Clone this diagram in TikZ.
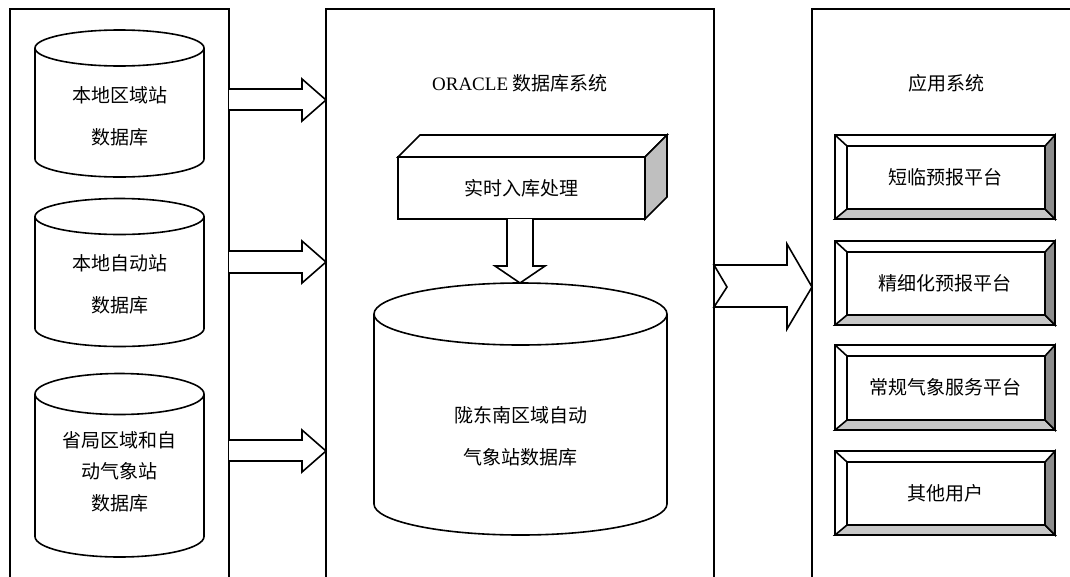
\documentclass[tikz,border=0pt]{standalone}
\usepackage{fontspec}
\setmainfont{Liberation Serif}
\newfontfamily\cjk{Noto Sans CJK SC}
\begin{document}
\begin{tikzpicture}[x=1pt,y=-1pt,
  ln/.style={line width=1.6pt,line join=miter},
  lbl/.style={font=\cjk\fontsize{19}{42}\selectfont,align=center,inner sep=0pt},
  lblb/.style={font=\cjk\fontsize{19}{31.5}\selectfont,align=center,inner sep=0pt},
  bevgray/.style={fill=black!22},
  bevdark/.style={fill=black!45},
  sidegray/.style={fill=black!25}]
\useasboundingbox (0,0) rectangle (1070,576);
% panels
\draw[ln] (10,590) -- (10,9) -- (229,9) -- (229,590);
\draw[ln] (326,590) -- (326,9) -- (714,9) -- (714,590);
\draw[ln] (812,590) -- (812,9) -- (1080,9);
% cylinders
\newcommand{\cyl}[4]{% cx, rx, ytop, ybot
  \draw[ln,fill=white] (#1-#2,#3) -- (#1-#2,#4) arc[start angle=180,end angle=0,x radius=#2,y radius=\cylry] -- (#1+#2,#3);
  \draw[ln,fill=white] (#1,#3) ellipse[x radius=#2,y radius=\cylry];}
\def\cylry{18}
\cyl{119.5}{84.5}{48}{159}
\cyl{119.5}{84.5}{216.5}{328.5}
\def\cylry{20.5}
\cyl{119.5}{84.5}{394}{536.5}
\def\cylry{31}
\cyl{520.5}{146.5}{314}{504}
\node[lbl] (db1) at (119.5,116.5) {本地区域站\\数据库};
\node[lbl] (db2) at (119.5,284) {本地自动站\\数据库};
\node[lblb] (db3) at (119.5,471.5) {省局区域和自\\动气象站\\数据库};
\node[lbl] (dbm) at (520.5,436) {陇东南区域自动\\气象站数据库};
% block arrows left
\newcommand{\barrow}[5]{% y shaft top, shaft bottom, head top, head bottom, tip y
  \draw[ln,fill=white] (229,#1) -- (302,#1) -- (302,#3) -- (326,#5) -- (302,#4) -- (302,#2) -- (229,#2);}
\barrow{89}{110}{79}{121}{100}
\barrow{251}{273}{241}{283}{262}
\barrow{440}{461}{430}{472}{451}
% titles
\node[inner sep=0pt] (ttl) at (520,83) {\fontsize{19}{19}\selectfont ORACLE {\cjk 数据库系统}};
\node[inner sep=0pt] (ttr) at (946,83) {\cjk\fontsize{19}{19}\selectfont 应用系统};
% 3D box
\draw[ln,fill=white] (398,157) -- (420,135) -- (667,135) -- (645,157) -- cycle;
\draw[ln,sidegray] (645,157) -- (667,135) -- (667,197) -- (645,219) -- cycle;
\draw[ln,fill=white] (398,157) rectangle (645,219);
\node[lbl] (proc) at (521.5,188) {实时入库处理};
% down arrow
\draw[ln,fill=white] (507,219) -- (507,266) -- (495,266) -- (520,283) -- (545,266) -- (533,266) -- (533,219);
% right arrow
\draw[ln,fill=white] (714,265) -- (787,265) -- (787,244) -- (812,287) -- (787,329) -- (787,307) -- (714,307) -- (727,287) -- cycle;
% application boxes
\newcommand{\appbox}[2]{% ytop, ybot
  \fill[white] (835,#1) rectangle (1055,#2);
  \draw[ln,bevgray] (835,#2) -- (847,#2-10) -- (1045,#2-10) -- (1055,#2) -- cycle;
  \draw[ln,bevdark] (1055,#1) -- (1045,#1+11) -- (1045,#2-10) -- (1055,#2) -- cycle;
  \draw[ln] (835,#1) -- (847,#1+11);
  \draw[ln] (835,#1) rectangle (1055,#2);
  \draw[ln] (847,#1+11) rectangle (1045,#2-10);}
\appbox{135}{219}
\appbox{241}{325}
\appbox{345}{430}
\appbox{451}{535}
\node[lbl] (a1) at (945,177) {短临预报平台};
\node[lbl] (a2) at (945,283) {精细化预报平台};
\node[lbl] (a3) at (945,387.5) {常规气象服务平台};
\node[lbl] (a4) at (945,493) {其他用户};
\end{tikzpicture}
\end{document}
